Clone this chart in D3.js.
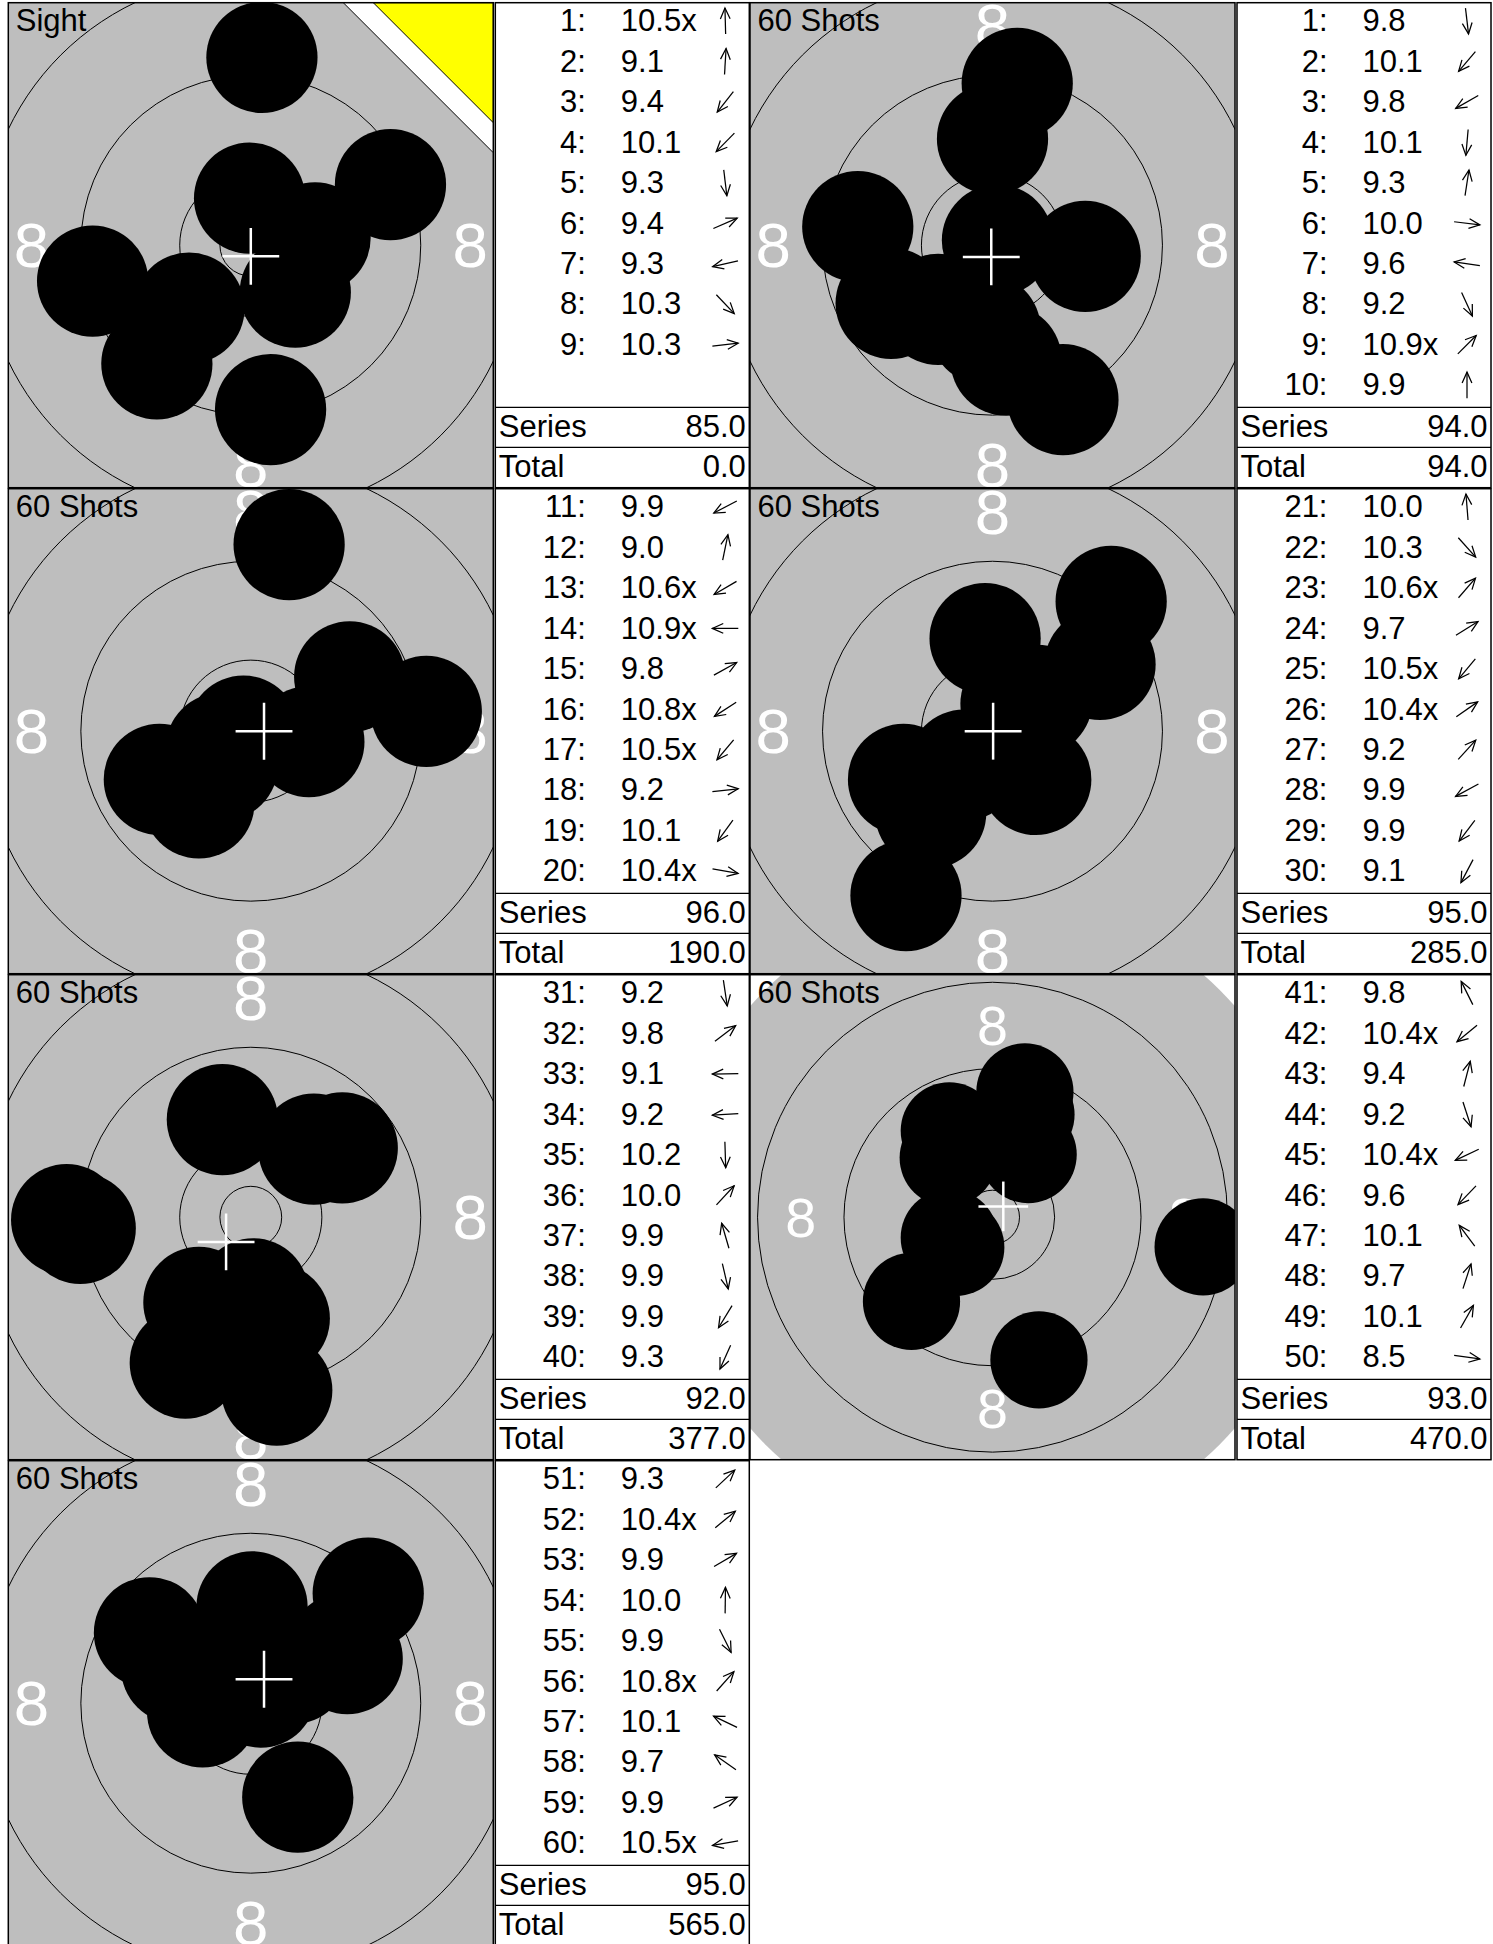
<!DOCTYPE html>
<html><head><meta charset="utf-8">
<script src="https://cdn.jsdelivr.net/npm/d3@7"></script>
<style>
html,body{margin:0;padding:0;background:#fff;}
svg{display:block;font-family:"Liberation Sans",Arial,Helvetica,sans-serif;}
</style>
</head><body>
<svg id="c" width="1493" height="1944"></svg>
<script>
// ---------------- data ----------------
const panelTitles = ["Sight", "60 Shots", "60 Shots", "60 Shots", "60 Shots", "60 Shots", "60 Shots"];
const firstShotNumber = [1, 1, 11, 21, 31, 41, 51];
const scores = [
  ["10.5x","9.1","9.4","10.1","9.3","9.4","9.3","10.3","10.3"],
  ["9.8","10.1","9.8","10.1","9.3","10.0","9.6","9.2","10.9x","9.9"],
  ["9.9","9.0","10.6x","10.9x","9.8","10.8x","10.5x","9.2","10.1","10.4x"],
  ["10.0","10.3","10.6x","9.7","10.5x","10.4x","9.2","9.9","9.9","9.1"],
  ["9.2","9.8","9.1","9.2","10.2","10.0","9.9","9.9","9.9","9.3"],
  ["9.8","10.4x","9.4","9.2","10.4x","9.6","10.1","9.7","10.1","8.5"],
  ["9.3","10.4x","9.9","10.0","9.9","10.8x","10.1","9.7","9.9","10.5x"]
];
// hit positions in mm from target centre (x right, y up)
const hitX = [
  [-0.1, 0.9, -7.6, -5.0, 1.6, 11.3, -12.8, 3.6, 5.2],
  [1.1, -4.4, -8.2, -0.6, 2.0, 7.5, -10.9, 5.7, 0.4, 0.0],
  [-7.4, 3.1, -2.4, -0.6, 8.0, -1.0, -2.3, 14.2, -4.2, 4.7],
  [-0.6, 3.5, 1.9, 8.7, -2.3, 3.6, 9.6, -7.2, -5.0, -7.0],
  [2.1, 7.4, -14.9, -13.8, 0.2, 5.1, -2.3, 1.9, -4.2, -5.3],
  [-4.0, -3.4, 3.0, 4.3, -4.0, -7.5, -4.1, 3.1, 3.3, 19.5],
  [9.5, 3.4, 7.5, 0.1, 3.8, 0.8, -6.0, -8.2, 7.8, -3.9]
];
const hitY = [
  [3.8, 15.2, -9.6, -5.1, -13.3, 4.9, -2.9, -3.8, 0.6],
  [-9.3, -5.2, -4.7, -6.8, 13.1, -0.9, 1.5, -12.5, 0.4, 8.6],
  [-3.9, 15.1, -1.4, 0.0, 4.4, -0.65, -2.75, 1.6, -5.8, -0.85],
  [7.5, -3.9, 2.2, 5.4, -2.75, 2.5, 10.5, -3.9, -6.6, -13.3],
  [-14.0, 5.6, -0.2, -0.9, -6.2, 5.5, 7.9, -8.2, -6.9, -11.8],
  [8.0, -2.8, 11.6, -13.2, -1.9, -7.8, 5.5, 9.5, 5.8, -2.75],
  [8.9, 2.8, 4.4, 7.8, -7.6, 0.9, 2.85, 5.7, 3.6, -0.7]
];
// mean point of impact (cross) per series, mm
const groupCenterX = [0.0, -0.1, 1.07, 0.05, -2.0, 1.0, 1.07];
const groupCenterY = [-0.9, -0.95, 0.0, 0.0, -2.0, 1.0, 1.94];
const seriesSums = ["85.0", "94.0", "96.0", "95.0", "92.0", "93.0", "95.0"];
const runningTotals = ["0.0", "94.0", "190.0", "285.0", "377.0", "470.0", "565.0"];
// target geometry (air pistol), mm
const ringRadii = [21.75, 13.75, 5.75, 2.5];
const blackRadius = 29.75;
const ringLabels = ["8"];
const ringLabelRadius = [17.75];
const shotRadius = 4.5;

// ---------------- layout ----------------
const GRAY = "#bebebe";
const TGT = 485, GAP = 2, TBL_W = 254, ROW_H = 486, TOP = 2.7;
const COL_X = [8.3, 750];
const FONT = 31;
const LINE_H = 40.46;

const svg = d3.select("#c");
const defs = svg.append("defs");

function arrow(g, cx, cy, ang) {
  const L = 13, head = 12, spread = 24 * Math.PI / 180;
  const dx = Math.cos(ang), dy = -Math.sin(ang);
  const x1 = cx - L * dx, y1 = cy - L * dy, x2 = cx + L * dx, y2 = cy + L * dy;
  const a = Math.atan2(dy, dx);
  const pts = [[x2 - head * Math.cos(a - spread), y2 - head * Math.sin(a - spread)],
               [x2, y2],
               [x2 - head * Math.cos(a + spread), y2 - head * Math.sin(a + spread)]];
  g.append("line").attr("x1", x1).attr("y1", y1).attr("x2", x2).attr("y2", y2)
    .attr("stroke", "#000").attr("stroke-width", 1.25);
  g.append("path").attr("d", d3.line()(pts)).attr("fill", "none")
    .attr("stroke", "#000").attr("stroke-width", 1.25);
}

scores.forEach((sc, i) => {
  const col = i % 2, row = Math.floor(i / 2);
  const x0 = COL_X[col], y0 = TOP + row * ROW_H;
  const minScore = d3.min(sc, s => parseFloat(s));
  const view = minScore < 9 ? 22.45 : 19.62;
  const xs = d3.scaleLinear().domain([-view, view]).range([x0, x0 + TGT]);
  const ys = d3.scaleLinear().domain([view, -view]).range([y0, y0 + TGT]);
  const k = xs(1) - xs(0);
  const cx = xs(0), cy = ys(0);

  defs.append("clipPath").attr("id", "clip" + i)
    .append("rect").attr("x", x0).attr("y", y0).attr("width", TGT).attr("height", TGT);
  const g = svg.append("g").attr("clip-path", `url(#clip${i})`);
  g.append("rect").attr("x", x0).attr("y", y0).attr("width", TGT).attr("height", TGT).attr("fill", "#fff");
  g.append("circle").attr("cx", cx).attr("cy", cy).attr("r", blackRadius * k).attr("fill", GRAY);
  g.selectAll("circle.ring").data(ringRadii).join("circle").attr("class", "ring")
    .attr("cx", cx).attr("cy", cy).attr("r", d => d * k)
    .attr("fill", "none").attr("stroke", "#000").attr("stroke-width", 1);

  const fs = 5.15 * k;
  const dirs = [[1, 0], [-1, 0], [0, 1], [0, -1]];
  ringLabels.forEach((lab, li) => {
    dirs.forEach(([ux, uy]) => {
      g.append("text").attr("x", xs(ux * ringLabelRadius[li]))
        .attr("y", ys(uy * ringLabelRadius[li]) + 0.35 * fs)
        .attr("text-anchor", "middle").attr("font-size", fs).attr("fill", "#fff").text(lab);
    });
  });

  if (i === 0) {
    const rx = x0 + TGT;
    g.append("polygon").attr("points", [[rx - 150, y0], [rx, y0], [rx, y0 + 150]].join(" "))
      .attr("fill", "#fff");
    g.append("line").attr("x1", rx - 150).attr("y1", y0).attr("x2", rx).attr("y2", y0 + 150)
      .attr("stroke", "#000").attr("stroke-width", 1);
    g.append("polygon").attr("points", [[rx - 120, y0], [rx, y0], [rx, y0 + 120]].join(" "))
      .attr("fill", "#ffff00").attr("stroke", "#000").attr("stroke-width", 1);
  }

  g.selectAll("circle.shot").data(sc.map((s, j) => j)).join("circle").attr("class", "shot")
    .attr("cx", j => xs(hitX[i][j])).attr("cy", j => ys(hitY[i][j]))
    .attr("r", shotRadius * k).attr("fill", "#000");

  const mx = groupCenterX[i], my = groupCenterY[i], cl = 2.3;
  g.append("line").attr("x1", xs(mx - cl)).attr("x2", xs(mx + cl)).attr("y1", ys(my)).attr("y2", ys(my))
    .attr("stroke", "#fff").attr("stroke-width", 2.5);
  g.append("line").attr("x1", xs(mx)).attr("x2", xs(mx)).attr("y1", ys(my - cl)).attr("y2", ys(my + cl))
    .attr("stroke", "#fff").attr("stroke-width", 2.5);

  g.append("text").attr("x", x0 + 7.5).attr("y", y0 + 28).attr("font-size", FONT)
    .attr("fill", "#000").text(panelTitles[i]);

  svg.append("rect").attr("x", x0).attr("y", y0).attr("width", TGT).attr("height", TGT)
    .attr("fill", "none").attr("stroke", "#000").attr("stroke-width", 1.5);

  // table
  const tx = x0 + TGT + GAP, ty = y0;
  const t = svg.append("g");
  t.append("rect").attr("x", tx).attr("y", ty).attr("width", TBL_W).attr("height", TGT)
    .attr("fill", "#fff").attr("stroke", "#000").attr("stroke-width", 1.5);
  const sepY = ty + 10 * LINE_H;
  [sepY, sepY + 40].forEach(yy => t.append("line").attr("x1", tx).attr("x2", tx + TBL_W)
    .attr("y1", yy).attr("y2", yy).attr("stroke", "#000").attr("stroke-width", 1.3));
  sc.forEach((s, j) => {
    const by = ty + j * LINE_H + 28.5;
    t.append("text").attr("x", tx + 90.5).attr("y", by).attr("text-anchor", "end")
      .attr("font-size", FONT).text((firstShotNumber[i] + j) + ":");
    t.append("text").attr("x", tx + 125.5).attr("y", by).attr("font-size", FONT).text(s);
    arrow(t, tx + 230, ty + j * LINE_H + 18.3, Math.atan2(hitY[i][j], hitX[i][j]));
  });
  t.append("text").attr("x", tx + 3.5).attr("y", sepY + 30).attr("font-size", FONT).text("Series");
  t.append("text").attr("x", tx + TBL_W - 3.5).attr("y", sepY + 30).attr("text-anchor", "end")
    .attr("font-size", FONT).text(seriesSums[i]);
  t.append("text").attr("x", tx + 3.5).attr("y", sepY + 70).attr("font-size", FONT).text("Total");
  t.append("text").attr("x", tx + TBL_W - 3.5).attr("y", sepY + 70).attr("text-anchor", "end")
    .attr("font-size", FONT).text(runningTotals[i]);
});
</script>
</body></html>
